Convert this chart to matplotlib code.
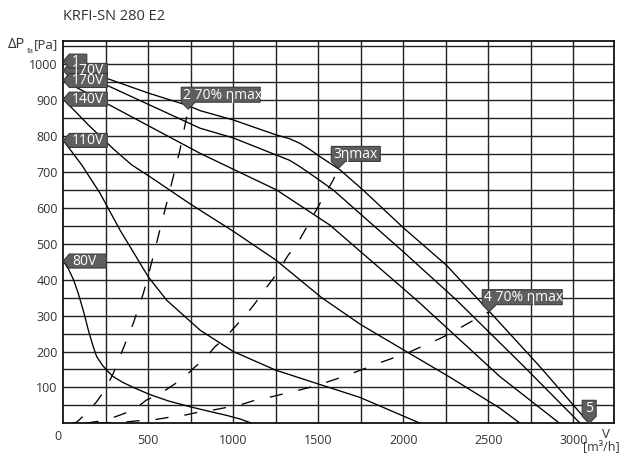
import matplotlib
matplotlib.use("Agg")
import matplotlib.pyplot as plt
from matplotlib.patches import Polygon
from matplotlib.transforms import IdentityTransform

plt.rcParams['font.family'] = ['Open Sans', 'DejaVu Sans']
plt.rcParams['lines.scale_dashes'] = False

# ---------------- data ----------------
title = "KRFI-SN 280 E2"

# fan curves (flow m3/h, pressure Pa)
q_a = [0, 255, 500, 735, 805, 1000, 1255, 1330, 1392, 1450, 1510, 1628, 1763, 2000, 2255, 2506, 2800, 3094]
p_a = [1009, 961, 920, 885, 871, 845, 803, 793, 780, 763, 743, 706, 650, 545, 440, 312, 160, 0]

q_b = [0, 255, 805, 1000, 1255, 1330, 1392, 1490, 1588, 2000, 2314, 2700, 3041]
p_b = [984, 942, 822, 795, 747, 733, 715, 683, 650, 478, 343, 163, 0]

q_c = [0, 255, 805, 1255, 1569, 2079, 2569, 2920]
p_c = [955, 891, 752, 650, 552, 343, 130, 0]

q_140 = [0, 150, 300, 402, 500, 750, 1000, 1250, 1520, 1750, 2000, 2276, 2569, 2688]
p_140 = [903, 830, 762, 720, 690, 610, 535, 455, 350, 275, 205, 128, 42, 0]

q_110 = [0, 108, 216, 334, 500, 608, 806, 1000, 1250, 1491, 1746, 2100]
p_110 = [788, 720, 641, 538, 408, 343, 259, 200, 148, 111, 72, 0]

q_80 = [0, 30, 60, 88, 120, 147, 175, 196, 230, 255, 294, 350, 412, 510, 620, 755, 870, 961, 1040, 1110]
p_80 = [452, 430, 400, 362, 310, 260, 215, 186, 162, 148, 130, 114, 100, 80, 62, 45, 32, 22, 12, 0]

# system / efficiency lines (dashed)
q_d1 = [50, 78, 137, 196, 245, 294, 353, 412, 471, 510, 608, 686, 735]
p_d1 = [0, 3, 28, 60, 93, 139, 209, 279, 362, 430, 613, 761, 875]

q_d2 = [130, 251, 334, 412, 490, 559, 638, 706, 765, 834, 892, 951, 1010, 1069, 1128, 1177,
        1236, 1275, 1324, 1373, 1422, 1461, 1588, 1618]
p_d2 = [0, 9, 23, 37, 65, 79, 104, 125, 153, 181, 213, 237, 269, 299, 334, 367,
        404, 432, 469, 497, 538, 571, 678, 710]

q_d3 = [200, 275, 373, 461, 549, 638, 716, 805, 882, 980, 1059, 1147, 1226, 1314, 1392, 1481,
        1559, 1647, 1726, 1804, 1882, 1971, 2039, 2128, 2206, 2285, 2353, 2432, 2506]
p_d3 = [0, 2, 4, 8, 11, 18, 23, 32, 37, 46, 54, 67, 74, 84, 93, 104,
        116, 130, 144, 158, 172, 187, 199, 218, 234, 252, 271, 292, 311]

# left labels: (pressure at Q=0, text)
left_labels = [(983, "170V"), (1009, "1"), (955, "170V"), (903, "140V"), (788, "110V"), (452, "80V")]
left_widths = [44, 23.5, 44, 44, 44, 43]

# point markers: (Q, P, text)
point_labels = [(735, 875, "2 70% ηmax"), (1618, 710, "3ηmax"), (2506, 311, "4 70% ηmax")]
point_widths = [79, 49, 80]
end_label = (3094, 0, "5")

x_major = [500, 1000, 1500, 2000, 2500, 3000]
x_minor = [250, 750, 1250, 1750, 2250, 2750]
y_major = [100, 200, 300, 400, 500, 600, 700, 800, 900, 1000]
y_minor = [50, 150, 250, 350, 450, 550, 650, 750, 850, 950, 1050]

# ---------------- figure ----------------
W, H = 625, 459
fig = plt.figure(figsize=(W / 100, H / 100), dpi=100)
ax = fig.add_axes([63.3 / W, (H - 423.3) / H, (614 - 63.3) / W, (423.3 - 41) / H])
ax.set_xlim(0, 3240)
ax.set_ylim(0, 1065)

txtc = '#333333'
ax.set_xticks(x_major)
ax.set_xticks(x_minor, minor=True)
ax.set_yticks(y_major)
ax.set_yticks(y_minor, minor=True)
ax.set_xticklabels([str(v) for v in x_major])
ax.set_yticklabels([str(v) for v in y_major])
ax.tick_params(which='both', length=0, labelsize=9, colors=txtc)
ax.tick_params(axis='x', pad=8)
ax.tick_params(axis='y', pad=4)
ax.grid(which='both', color='#222222', linewidth=1.0, zorder=1)
ax.set_axisbelow(True)
for s in ax.spines.values():
    s.set_linewidth(1.3)
    s.set_color('#111111')

lw = 0.95
for q, p in [(q_a, p_a), (q_b, p_b), (q_c, p_c), (q_140, p_140), (q_110, p_110), (q_80, p_80)]:
    ax.plot(q, p, color='black', linewidth=lw, zorder=3, solid_joinstyle='round')

for q, p in [(q_d1, p_d1), (q_d2, p_d2), (q_d3, p_d3)]:
    ln, = ax.plot(q, p, color='black', linewidth=lw, zorder=3)
    ln.set_dashes((9.5, 11.5))

# ---------------- labels ----------------
fc = '#5e5e5e'
ec = '#3c3c3c'
ident = IdentityTransform()

for (pv, t), w in zip(left_labels, left_widths):
    tx, ty = ax.transData.transform((0, pv))
    h = 7
    verts = [(tx, ty), (tx + 6, ty + h), (tx + w, ty + h), (tx + w, ty - h), (tx + 6, ty - h)]
    fig.add_artist(Polygon(verts, closed=True, transform=ident, facecolor=fc,
                           edgecolor=ec, linewidth=0.8, zorder=5))
    fig.add_artist(plt.Text(tx + 8.5, ty - 0.5, t, color='white', fontsize=10,
                            ha='left', va='center', transform=ident, zorder=6))

for (qv, pv, t), w in zip(point_labels, point_widths):
    tx, ty = ax.transData.transform((qv, pv))
    left = tx - 7
    bot = ty + 7
    top = bot + 15
    verts = [(tx, ty), (left, bot), (left, top), (left + w, top), (left + w, bot), (tx + 7, bot)]
    fig.add_artist(Polygon(verts, closed=True, transform=ident, facecolor=fc,
                           edgecolor=ec, linewidth=0.8, zorder=5))
    fig.add_artist(plt.Text(left + 2, (bot + top) / 2 - 0.5, t, color='white', fontsize=10,
                            ha='left', va='center', transform=ident, zorder=6))

qv, pv, t = end_label
tx, ty = ax.transData.transform((qv, pv))
bot = ty + 7
top = bot + 16
verts = [(tx, ty), (tx - 7, bot), (tx - 7, top), (tx + 7, top), (tx + 7, bot)]
fig.add_artist(Polygon(verts, closed=True, transform=ident, facecolor=fc,
                       edgecolor=ec, linewidth=0.8, zorder=5))
fig.add_artist(plt.Text(tx, (bot + top) / 2 - 0.5, t, color='white', fontsize=10,
                        ha='center', va='center', transform=ident, zorder=6))

# ---------------- texts ----------------
def fx(x):
    return x / W

def fy(y):
    return 1 - y / H

fig.text(fx(63), fy(17), title, fontsize=10.5, color=txtc, ha='left', va='center')
fig.text(fx(7.5), fy(45), "ΔP", fontsize=10.5, color=txtc, ha='left', va='center')
fig.text(fx(26.5), fy(51.5), "fa", fontsize=5.5, color=txtc, ha='left', va='center')
fig.text(fx(33.5), fy(45), "[Pa]", fontsize=9.5, color=txtc, ha='left', va='center')
fig.text(fx(58), fy(437), "0", fontsize=9, color=txtc, ha='center', va='center')
fig.text(fx(606), fy(435), "V", fontsize=9.5, color=txtc, ha='center', va='center')
fig.text(fx(601), fy(447), "[m³/h]", fontsize=9, color=txtc, ha='center', va='center')

fig.savefig("out.png", dpi=100)
